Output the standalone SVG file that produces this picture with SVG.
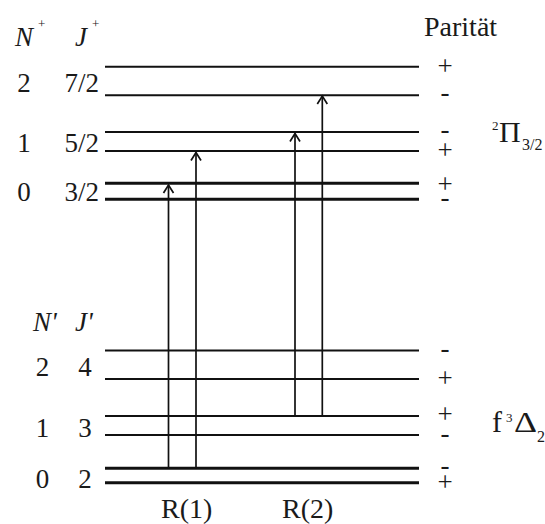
<svg xmlns="http://www.w3.org/2000/svg" width="545" height="524" viewBox="0 0 545 524">
<defs>
<style>
.lv{stroke:#111;stroke-width:2;fill:none}
.lvt{stroke:#111;stroke-width:3;fill:none}
.ar{stroke:#111;stroke-width:1.7;fill:none;marker-end:url(#arr)}
.t{fill:#1a1a1a}
.f27{font-size:27px}
.f28{font-size:28px}
.f30{font-size:30px}
.f13{font-size:13px}
.f16{font-size:16px}
.it{font-style:italic}
.m{text-anchor:middle}
.e{text-anchor:end}
</style>
<marker id="arr" markerUnits="userSpaceOnUse" viewBox="-10 -7 12 14" markerWidth="12" markerHeight="14" refX="0" refY="0" orient="auto">
<path d="M-8,-5 L0,0 L-8,5" stroke="#111" stroke-width="1.7" fill="none"/>
</marker>
</defs>
<rect width="545" height="524" fill="#fff"/>
<g font-family="Liberation Serif, Times New Roman, serif">
<g id="hdr-upper">
<text class="t f27 it" x="15" y="46">N</text><text class="t f13" x="38" y="28">+</text>
<text class="t f27 it" x="75" y="46">J</text><text class="t f13" x="92" y="28">+</text>
<text class="t f28" x="424" y="36">Parität</text>
</g>
<g id="hdr-lower">
<text class="t f27 it" x="33" y="331">N'</text>
<text class="t f27 it" x="75" y="331">J'</text>
</g>

<g id="state-pi">
<text class="t f13" x="492" y="130">2</text>
<text class="t f30" x="499" y="142">Π</text>
<text class="t f16" x="522" y="150">3/2</text>
</g>
<g id="state-delta">
<text class="t f30" x="492" y="432">f</text>
<text class="t f13" x="506" y="422">3</text>
<text class="t f30" x="514" y="432" textLength="23" lengthAdjust="spacingAndGlyphs">Δ</text>
<text class="t f16" x="537" y="442">2</text>
</g>

<g id="up-N2">
<text class="t f27 m" x="24" y="92">2</text><text class="t f27 e" x="99" y="92">7/2</text>
<line class="lv" x1="105" y1="66.7" x2="419" y2="66.7"/><text class="t f27 m" x="445" y="74.8">+</text>
<line class="lv" x1="105" y1="95.3" x2="419" y2="95.3"/><text class="t f27 m" x="445" y="101">-</text>
</g>
<g id="up-N1">
<text class="t f27 m" x="24" y="152">1</text><text class="t f27 e" x="99" y="152">5/2</text>
<line class="lv" x1="105" y1="132" x2="419" y2="132"/><text class="t f27 m" x="445" y="137.8">-</text>
<line class="lv" x1="105" y1="151" x2="419" y2="151"/><text class="t f27 m" x="445" y="158.8">+</text>
</g>
<g id="up-N0">
<text class="t f27 m" x="24" y="201">0</text><text class="t f27 e" x="99" y="201">3/2</text>
<line class="lvt" x1="105" y1="183.3" x2="419" y2="183.3"/><text class="t f27 m" x="445" y="192.8">+</text>
<line class="lvt" x1="105" y1="199.3" x2="419" y2="199.3"/><text class="t f27 m" x="445" y="206">-</text>
</g>

<g id="lo-N2">
<text class="t f27 m" x="42.5" y="376">2</text><text class="t f27 m" x="85" y="376">4</text>
<line class="lv" x1="105" y1="350.5" x2="419" y2="350.5"/><text class="t f27 m" x="445" y="356.8">-</text>
<line class="lv" x1="105" y1="379" x2="419" y2="379"/><text class="t f27 m" x="445" y="386.8">+</text>
</g>
<g id="lo-N1">
<text class="t f27 m" x="42.5" y="437">1</text><text class="t f27 m" x="85" y="437">3</text>
<line class="lv" x1="105" y1="416" x2="419" y2="416"/><text class="t f27 m" x="445" y="422.8">+</text>
<line class="lv" x1="105" y1="435" x2="419" y2="435"/><text class="t f27 m" x="445" y="442">-</text>
</g>
<g id="lo-N0">
<text class="t f27 m" x="42.5" y="488">0</text><text class="t f27 m" x="85" y="488">2</text>
<line class="lvt" x1="105" y1="468.3" x2="419" y2="468.3"/><text class="t f27 m" x="445" y="473.8">-</text>
<line class="lvt" x1="105" y1="482.7" x2="419" y2="482.7"/><text class="t f27 m" x="445" y="490.8">+</text>
</g>

<g id="connectors">
<line class="ar" x1="168.5" y1="468.3" x2="168.5" y2="185"/>
<line class="ar" x1="196" y1="468.3" x2="196" y2="152.5"/>
<line class="ar" x1="295" y1="416" x2="295" y2="133.5"/>
<line class="ar" x1="322.3" y1="416" x2="322.3" y2="96"/>
</g>
<g id="labels">
<text class="t f28" x="161" y="518">R(1)</text>
<text class="t f28" x="282" y="518">R(2)</text>
</g>
</g>
</svg>
